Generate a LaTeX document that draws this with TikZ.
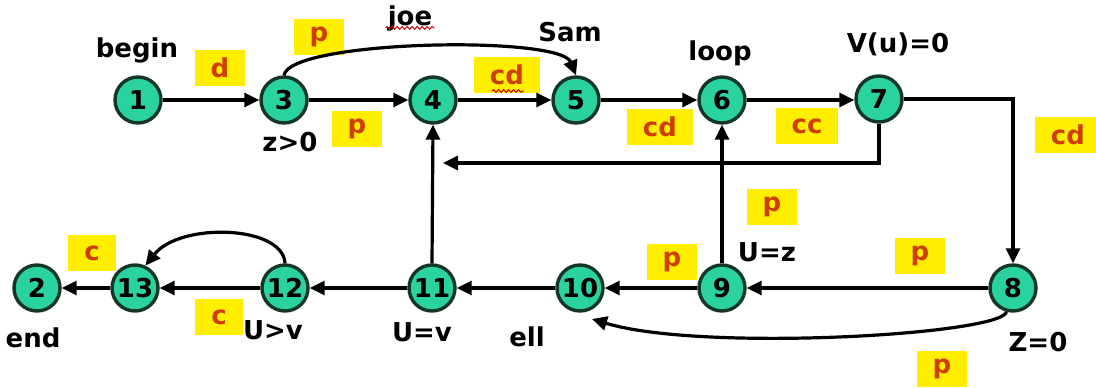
\documentclass[tikz,border=0pt]{standalone}
\usepackage{fontspec}
\setmainfont{DejaVu Sans}
\usetikzlibrary{arrows.meta,decorations.pathmorphing}
\definecolor{nodefill}{RGB}{42,210,160}
\definecolor{nodeedge}{RGB}{18,55,38}
\definecolor{lblyellow}{RGB}{255,238,0}
\definecolor{lblred}{RGB}{205,62,0}
\tikzset{
  st/.style={circle,draw=nodeedge,fill=nodefill,line width=3.4pt,minimum size=46pt,inner sep=0pt,
    font=\bfseries\fontsize{26}{26}\selectfont},
  tag/.style={font=\bfseries\fontsize{26}{26}\selectfont,inner sep=0pt},
  elab/.style={fill=lblyellow,text=lblred,font=\bfseries\fontsize{26}{26}\selectfont,
    minimum height=36pt,minimum width=38pt,inner xsep=16pt,inner ysep=0pt},
  edge/.style={line width=3.2pt,-{Triangle[length=15pt,width=14pt]}},
  squig/.style={red!80!black,line width=1pt,decorate,decoration={snake,amplitude=1.4pt,segment length=5pt}}
}
\begin{document}
\begin{tikzpicture}[x=1pt,y=-1pt]
\useasboundingbox[fill=white] (0,0) rectangle (1096,388);
% label boxes
\node[elab] (ld) at (220,68) {d};
\node[elab] (lp1) at (319,37) {p};
\node[elab] (lp2) at (357,129) {p};
\node[elab] (lcd1) at (507,75) {cd};
\node[elab] (lcd2) at (660,127) {cd};
\node[elab] (lcc) at (807,126) {cc};
\node[elab] (lcd3) at (1068,135) {cd};
\node[elab] (lp3) at (772,207) {p};
\node[elab] (lp4) at (920,256) {p};
\node[elab] (lp5) at (672,262) {p};
\node[elab] (lp6) at (942,369) {p};
\node[elab] (lc1) at (219,317) {c};
\node[elab] (lc2) at (92,253) {c};
% states
\node[st] (n1) at (138,100) {1};
\node[st] (n3) at (284,100) {3};
\node[st] (n4) at (433,100) {4};
\node[st] (n5) at (576,100) {5};
\node[st] (n6) at (722,100) {6};
\node[st] (n7) at (879,99) {7};
\node[st] (n8) at (1013,288) {8};
\node[st] (n9) at (722,288) {9};
\node[st] (n10) at (580,288) {10};
\node[st] (n11) at (432,288) {11};
\node[st] (n12) at (285,288) {12};
\node[st] (n13) at (135,288) {13};
\node[st] (n2) at (37,288) {2};
% text tags
\node[tag] (tbegin) at (137,50) {begin};
\node[tag] (tz) at (290,142) {z>0};
\node[tag] (tjoe) at (410,18) {joe};
\node[tag] (tsam) at (570,32) {Sam};
\node[tag] (tloop) at (720,53) {loop};
\node[tag] (tvu) at (898,44) {V(u)=0};
\node[tag] (tuz) at (767,252) {U=z};
\node[tag] (tz0) at (1038,342) {Z=0};
\node[tag] (tell) at (527,337) {ell};
\node[tag] (tuv) at (422,332) {U=v};
\node[tag] (tugv) at (273,330) {U>v};
\node[tag] (tend) at (33,338) {end};
% squiggly underlines
\draw[squig] ([xshift=-2pt,yshift=3pt]tjoe.south west) -- ([xshift=2pt,yshift=3pt]tjoe.south east);
\draw[squig] (492,91) -- (524,91);
% coordinates
\coordinate (c74) at (443,163);
\coordinate (c810) at (592,319);
% connectors
\draw[edge] (n1) -- (n3);
\draw[edge] (n3) -- (n4);
\draw[edge] (n4) -- (n5);
\draw[edge] (n5) -- (n6);
\draw[edge] (n6.east) -- (n7.west |- n6.east);
\draw[edge] (n3.north) .. controls (290,40) and (560,35) .. (n5.north);
\draw[edge] (n7.east) -| (n8.north);
\draw[edge] (n7.south) |- (c74);
\draw[edge] (n11.north) -- (n4.south);
\draw[edge] (n9.north) -- (n6.south);
\draw[edge] (n8) -- (n9);
\draw[edge] (n9) -- (n10);
\draw[edge] (n10) -- (n11);
\draw[edge] (n11) -- (n12);
\draw[edge] (n12) -- (n13);
\draw[edge] (n13) -- (n2);
\draw[edge] (n8.-105) .. controls (1000,335) and (700,352) .. (c810);
\draw[edge] (n12.north) .. controls (283,225) and (180,222) .. (n13.65);
\end{tikzpicture}
\end{document}
